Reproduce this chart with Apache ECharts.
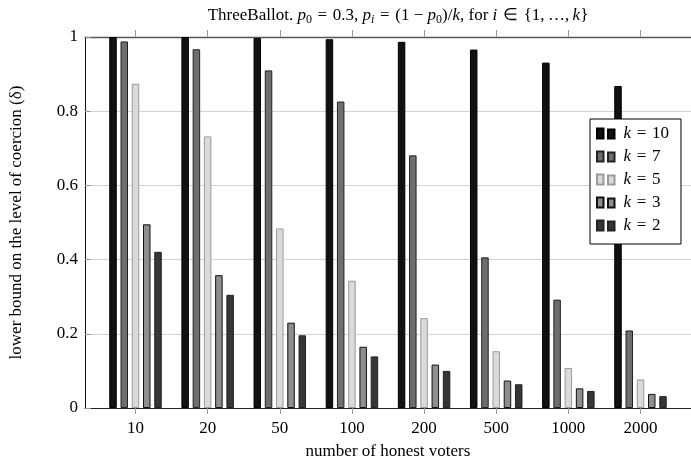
<!DOCTYPE html>
<html>
<head>
<meta charset="utf-8">
<script src="https://cdn.jsdelivr.net/npm/echarts@6/dist/echarts.min.js"></script>
<style>
  html, body { margin: 0; padding: 0; background: #fff; }
  #main { width: 691px; height: 466px; }
</style>
</head>
<body>
<div id="main"></div>
<script>
// number of honest voters
const categories = ['10', '20', '50', '100', '200', '500', '1000', '2000'];
const kNames = ['k=10', 'k=7', 'k=5', 'k=3', 'k=2'];
// lower bound on the level of coercion, one array per k
const k10 = [1.0, 1.0, 0.997, 0.994, 0.987, 0.966, 0.931, 0.868];
const k7 = [0.988, 0.967, 0.910, 0.826, 0.681, 0.406, 0.292, 0.209];
const k5 = [0.874, 0.732, 0.484, 0.343, 0.242, 0.153, 0.108, 0.077];
const k3 = [0.495, 0.358, 0.230, 0.165, 0.117, 0.074, 0.053, 0.038];
const k2 = [0.421, 0.305, 0.196, 0.139, 0.100, 0.064, 0.046, 0.032];
const yTicks = [0, 0.2, 0.4, 0.6, 0.8, 1];

const serif = 'Liberation Serif';
const fills = ['#111111', '#6e6e6e', '#dadada', '#8e8e8e', '#363636'];
const borders = ['#000000', '#222222', '#9a9a9a', '#111111', '#222222'];
const allData = [k10, k7, k5, k3, k2];
const catPos = categories.map((c, i) => i + 1);
const sp = '\u2004'; // math-ish spacing around relations

let chart = echarts.init(document.getElementById('main'));

const series = kNames.map((name, j) => ({
  name: name,
  type: 'bar',
  xAxisIndex: 0,
  barWidth: 7.5,
  barGap: '50%',
  itemStyle: { color: fills[j], borderColor: borders[j], borderWidth: 1 },
  data: allData[j].map((v, i) => [catPos[i], v])
}));

const options = {
  animation: false,
  backgroundColor: '#fff',
  title: {
    left: 393,
    top: 0,
    textAlign: 'center',
    text: '{r|ThreeBallot. }{i|p}{s|0}{r|' + sp + '=' + sp + '0.3, }{i|p}{si|i}{r|' + sp + '=' + sp + '(1 − }{i|p}{s|0}{r|)/}{i|k}{r|, for }{i|i}{r|' + sp + '∈' + sp + '{1,\u2009…,\u2009}{i|k}}',
    textStyle: {
      fontFamily: serif, fontSize: 17, fontWeight: 'normal', color: '#000', lineHeight: 21,
      rich: {
        r: { fontFamily: serif, fontSize: 17, color: '#000', lineHeight: 21 },
        i: { fontFamily: serif, fontSize: 17, fontStyle: 'italic', color: '#000', lineHeight: 21 },
        s: { fontFamily: serif, fontSize: 12, color: '#000', lineHeight: 12, verticalAlign: 'bottom' },
        si: { fontFamily: serif, fontSize: 12, fontStyle: 'italic', color: '#000', lineHeight: 12, verticalAlign: 'bottom' }
      }
    }
  },
  legend: {
    orient: 'vertical',
    left: 590,
    top: 119,
    padding: [6, 12, 10, 6],
    itemGap: 6,
    itemWidth: 17.5,
    itemHeight: 10,
    icon: 'path://M0,0h6.5v10h-6.5z M11,1h6.5v9h-6.5z',
    backgroundColor: '#fff',
    borderColor: '#000',
    borderWidth: 1,
    borderRadius: 0,
    data: kNames,
    formatter: name => '{i|k}' + sp + '=' + sp + name.split('=')[1],
    textStyle: {
      fontFamily: serif, fontSize: 17, color: '#000', lineHeight: 17, padding: [0, 0, 0, 4],
      rich: {
        i: { fontFamily: serif, fontSize: 17, fontStyle: 'italic', color: '#000' }
      }
    }
  },
  grid: { left: 85, right: -7, top: 37, bottom: 58 },
  xAxis: [
    {
      type: 'value',
      position: 'bottom',
      min: 0.3,
      max: 8.7,
      name: 'number of honest voters',
      nameLocation: 'middle',
      nameGap: 35,
      nameTextStyle: { fontFamily: serif, fontSize: 17, color: '#000' },
      axisLine: { show: true, onZero: false, lineStyle: { color: '#222', width: 1 } },
      axisTick: { show: true, customValues: catPos, length: 6, lineStyle: { color: '#999' } },
      axisLabel: {
        show: true, customValues: catPos, margin: 12,
        fontFamily: serif, fontSize: 17, color: '#000',
        formatter: v => categories[Math.round(v) - 1]
      },
      splitLine: { show: false }
    },
    {
      type: 'value',
      position: 'top',
      min: 0.3,
      max: 8.7,
      axisLine: { show: true, onZero: false, lineStyle: { color: '#555', width: 1.3 } },
      axisTick: { show: true, customValues: catPos, length: 7, lineStyle: { color: '#999' } },
      axisLabel: { show: false },
      splitLine: { show: false }
    }
  ],
  yAxis: {
    type: 'value',
    min: 0,
    max: 1,
    interval: 0.2,
    name: 'lower bound on the level of coercion (δ)',
    nameLocation: 'middle',
    nameGap: 60,
    nameRotate: 90,
    nameTextStyle: { fontFamily: serif, fontSize: 17, color: '#000' },
    axisLine: { show: true, lineStyle: { color: '#111', width: 1 } },
    axisTick: { show: true, inside: true, length: 6, lineStyle: { color: '#999' } },
    axisLabel: {
      margin: 7, fontFamily: serif, fontSize: 17, color: '#000',
      formatter: v => String(yTicks[Math.round(v * 5)])
    },
    splitLine: { show: true, lineStyle: { color: '#d3d3d3', width: 1 } }
  },
  series: series
};

chart.setOption(options);
</script>
</body>
</html>
